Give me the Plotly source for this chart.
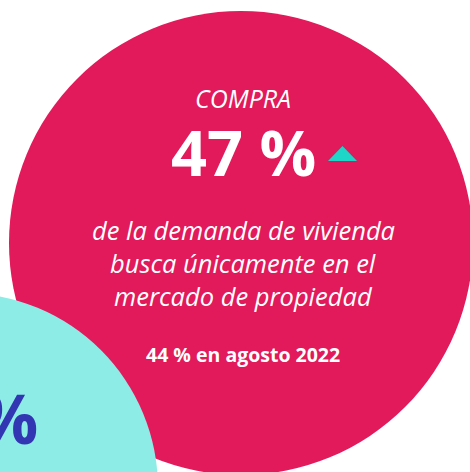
import plotly.graph_objects as go

# data
categoria = "COMPRA"
valor_actual = [47]
valor_anterior = [44]
periodo_anterior = ["agosto 2022"]
descripcion = [
    "de la demanda de vivienda",
    "busca únicamente en el",
    "mercado de propiedad",
]

PINK = "#E2195B"
CYAN = "#8EECE6"
TURQ = "#1DD6C8"
BLUE = "#3336B3"
FONT = "Open Sans, sans-serif"

W, H = 470, 472

fig = go.Figure()

# big pink circle
fig.add_shape(type="circle", x0=9, y0=11, x1=473, y1=475,
              fillcolor=PINK, line_width=0, layer="below")
# cyan circle bottom-left
fig.add_shape(type="circle", x0=-232, y0=293, x1=158, y1=683,
              fillcolor=CYAN, line_width=0, layer="below")
# up arrow
fig.add_shape(type="path", path="M 328 161 L 357 161 L 342.5 146 Z",
              fillcolor=TURQ, line_width=0)

fig.add_annotation(x=243, y=98, text=categoria, showarrow=False,
                   font=dict(family=FONT, size=25, color="white", style="italic"))
fig.add_annotation(x=243, y=151, text=f"<b>{valor_actual[0]} %</b>", showarrow=False,
                   font=dict(family=FONT, size=63, color="white"))

for i, line in enumerate(descripcion):
    fig.add_annotation(x=243, y=230 + i * 33, text=line, showarrow=False,
                       font=dict(family=FONT, size=25.5, color="white", style="italic"))

fig.add_annotation(x=243, y=354,
                   text=f"<b>{valor_anterior[0]} % en {periodo_anterior[0]}</b>",
                   showarrow=False, font=dict(family=FONT, size=19.5, color="white"))

# tail of the neighbouring figure, cut off at the left edge
fig.add_annotation(x=40, y=417, text="<b>%</b>", showarrow=False, xanchor="right",
                   font=dict(family=FONT, size=68, color=BLUE))

fig.update_xaxes(range=[0, W], visible=False, fixedrange=True)
fig.update_yaxes(range=[H, 0], visible=False, fixedrange=True)
fig.update_layout(
    width=W, height=H,
    margin=dict(l=0, r=0, t=0, b=0),
    paper_bgcolor="white", plot_bgcolor="white",
    showlegend=False,
)

fig.write_html("out.html", config={"displayModeBar": False},
               post_script="document.body.style.margin='0';")
